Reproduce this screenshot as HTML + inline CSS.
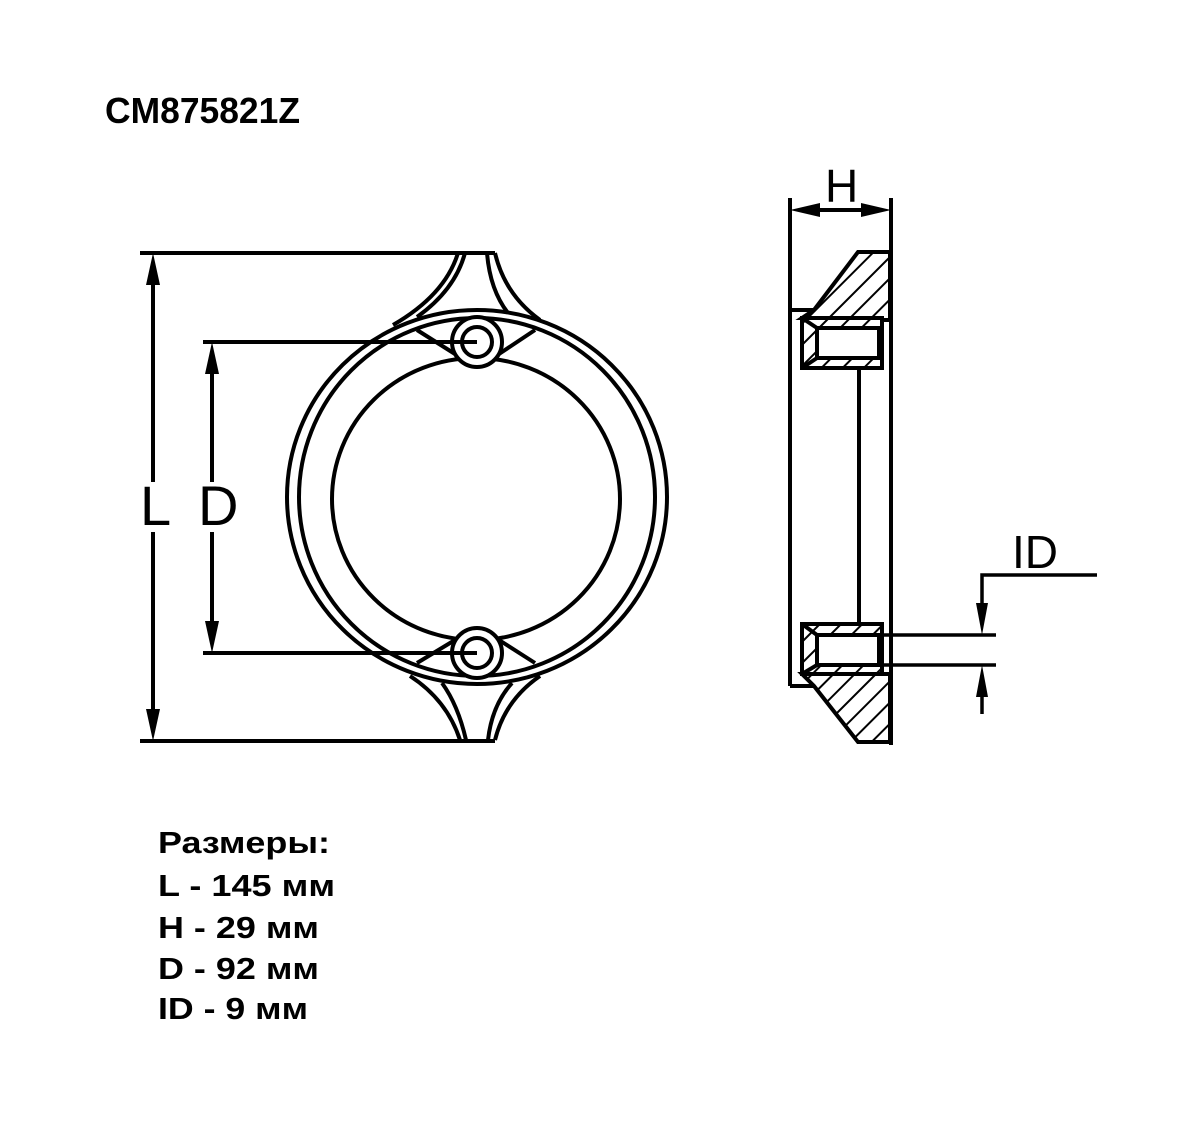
<!DOCTYPE html>
<html><head><meta charset="utf-8"><style>html,body{margin:0;padding:0;background:#fff}svg{display:block}</style></head>
<body>
<svg width="1200" height="1124" viewBox="0 0 1200 1124" xmlns="http://www.w3.org/2000/svg">
<rect width="1200" height="1124" fill="#fff"/>
<defs>
<pattern id="h" patternUnits="userSpaceOnUse" width="15" height="15" patternTransform="rotate(45)">
<rect width="15" height="15" fill="#fff"/><line x1="0" y1="0" x2="0" y2="15" stroke="#000" stroke-width="4"/>
</pattern>
</defs>
<g font-family="Liberation Sans, sans-serif" fill="#000">
<text x="105" y="123" font-size="36" font-weight="bold" textLength="195" lengthAdjust="spacingAndGlyphs">CM875821Z</text>
<text x="158" y="853" font-size="31" font-weight="bold" textLength="172" lengthAdjust="spacingAndGlyphs">Размеры:</text>
<text x="158" y="896" font-size="31" font-weight="bold" textLength="177" lengthAdjust="spacingAndGlyphs">L - 145 мм</text>
<text x="158" y="938" font-size="31" font-weight="bold" textLength="161" lengthAdjust="spacingAndGlyphs">H - 29 мм</text>
<text x="158" y="979" font-size="31" font-weight="bold" textLength="161" lengthAdjust="spacingAndGlyphs">D - 92 мм</text>
<text x="158" y="1019" font-size="31" font-weight="bold" textLength="150" lengthAdjust="spacingAndGlyphs">ID - 9 мм</text>
<text x="140" y="525" font-size="56">L</text>
<text x="198" y="525" font-size="56">D</text>
<text x="825" y="202" font-size="46">H</text>
<text x="1012" y="568" font-size="46">ID</text>
</g>
<g fill="none" stroke="#000" stroke-width="4">
<ellipse cx="477" cy="497" rx="190" ry="187"/>
<ellipse cx="477" cy="497" rx="178" ry="179"/>
<ellipse cx="476" cy="499" rx="144" ry="141"/>
<circle cx="477" cy="342" r="25" fill="#fff"/>
<circle cx="477" cy="342" r="15"/>
<circle cx="477" cy="653" r="25" fill="#fff"/>
<circle cx="477" cy="653" r="15"/>
<path d="M458 253 Q445 295 393 325"/>
<path d="M465 253 Q455 290 417 317"/>
<path d="M487 253 Q490 290 508 313"/>
<path d="M495 253 Q505 295 540 320"/>
<path d="M460 740 Q447 700 410 676"/>
<path d="M466 740 Q458 705 442 683"/>
<path d="M488 740 Q492 705 512 683"/>
<path d="M495 740 Q505 700 540 676"/>
<line x1="417" y1="330" x2="455" y2="354"/>
<line x1="535" y1="330" x2="499" y2="354"/>
<line x1="417" y1="663" x2="455" y2="640"/>
<line x1="535" y1="663" x2="499" y2="640"/>
<line x1="140" y1="253" x2="495" y2="253"/>
<line x1="140" y1="741" x2="495" y2="741"/>
<line x1="203" y1="342" x2="477" y2="342"/>
<line x1="203" y1="653" x2="477" y2="653"/>
<line x1="153" y1="270" x2="153" y2="482"/>
<line x1="153" y1="532" x2="153" y2="725"/>
<line x1="212" y1="358" x2="212" y2="482"/>
<line x1="212" y1="532" x2="212" y2="637"/>
<line x1="790" y1="198" x2="790" y2="686"/>
<line x1="891" y1="198" x2="891" y2="745"/>
<line x1="808" y1="210" x2="873" y2="210"/>
<line x1="859" y1="368" x2="859" y2="623"/>
<line x1="790" y1="310" x2="814" y2="310"/>
<line x1="790" y1="686" x2="814" y2="686"/>
</g>
<g fill="#000">
<polygon points="153,253 146,285 160,285"/>
<polygon points="153,741 146,709 160,709"/>
<polygon points="212,342 205,374 219,374"/>
<polygon points="212,653 205,621 219,621"/>
<polygon points="790,210 820,203 820,217"/>
<polygon points="891,210 861,203 861,217"/>
<polygon points="982,635 976,603 988,603"/>
<polygon points="982,665 976,697 988,697"/>
</g>
<g stroke="#000" stroke-width="4">
<polygon points="858,252 890,252 890,320 882,320 882,318 802,318 814,310" fill="url(#h)"/>
<rect x="802" y="318" width="80" height="50" fill="url(#h)"/>
<rect x="817" y="328" width="62" height="30" fill="#fff"/>
<line x1="802" y1="318" x2="817" y2="328"/>
<line x1="802" y1="368" x2="817" y2="358"/>
<rect x="802" y="624" width="80" height="50" fill="url(#h)"/>
<rect x="817" y="635" width="62" height="30" fill="#fff"/>
<line x1="802" y1="624" x2="817" y2="635"/>
<line x1="802" y1="674" x2="817" y2="665"/>
<polygon points="802,674 882,674 890,674 890,742 858,742 814,686" fill="url(#h)"/>
</g>
<g fill="none" stroke="#000" stroke-width="3.5">
<line x1="884" y1="635" x2="996" y2="635"/>
<line x1="884" y1="665" x2="996" y2="665"/>
<polyline points="982,612 982,575 1097,575"/>
<line x1="982" y1="690" x2="982" y2="714"/>
</g>
</svg>
</body></html>
